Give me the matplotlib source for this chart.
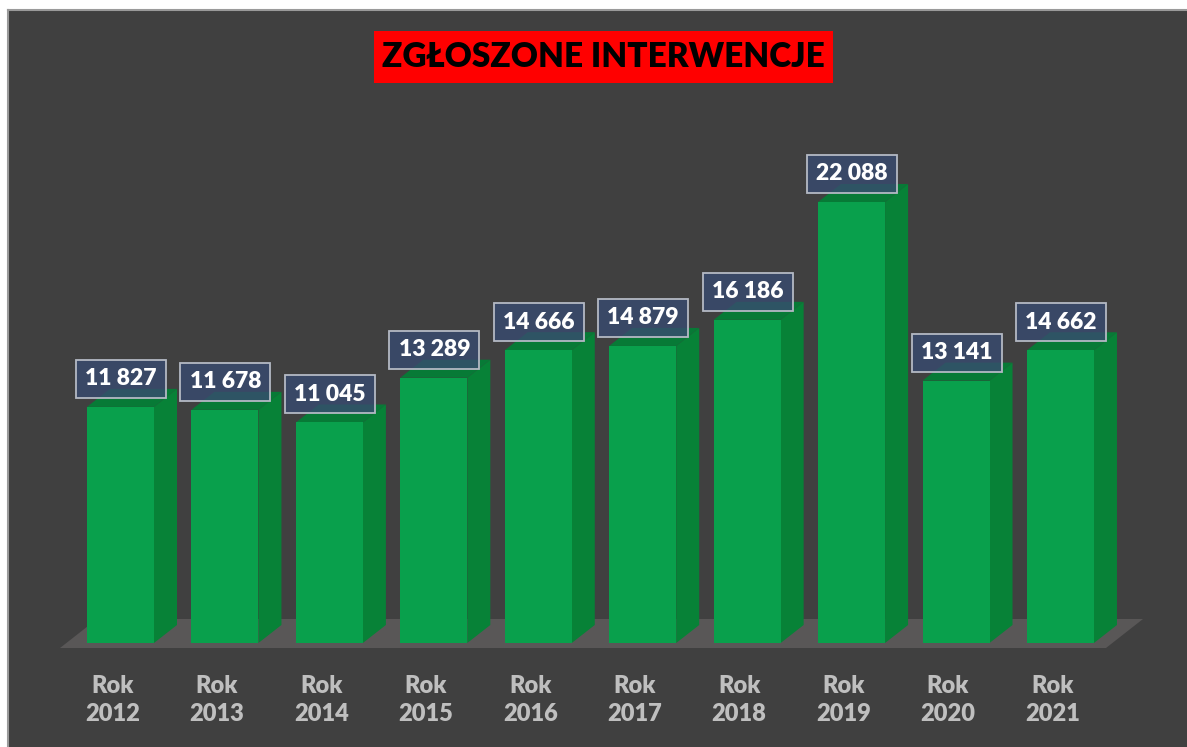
import matplotlib
matplotlib.use("Agg")
import matplotlib.pyplot as plt
from matplotlib.patches import Polygon, Rectangle
import numpy as np

# ---- data ----
years = ['2012', '2013', '2014', '2015', '2016', '2017', '2018', '2019', '2020', '2021']
values = [11827, 11678, 11045, 13289, 14666, 14879, 16186, 22088, 13141, 14662]
title = 'ZGŁOSZONE INTERWENCJE'
prefix = 'Rok'

# ---- style ----
BG = '#404040'
FLOOR = '#595757'
FRONT = '#09a04c'
SIDE = '#078237'
TOP = '#077a36'
LABEL_FC = '#384b70'
LABEL_EC = '#b4b9c4'
TICK_C = '#bfbfbf'
FONT = 'Lato'
WEIGHT = 'heavy'

W, H = 1187, 747
fig = plt.figure(figsize=(W / 100, H / 100), dpi=100, facecolor='white')
ax = fig.add_axes([8 / W, 0, (W - 8) / W, (H - 10) / H])
ax.set_facecolor(BG)

# scales (category units and value units)
px_per_cat = 104.44
px_per_val = 441 / 22088.0
x0_px, y0_px = 120.5, 643
ax.set_xlim((8 - x0_px) / px_per_cat, (W - x0_px) / px_per_cat)
ax.set_ylim(-(H - y0_px) / px_per_val, (y0_px - 10) / px_per_val)
ax.set_xticks([])
ax.set_yticks([])
for s in ['bottom', 'right']:
    ax.spines[s].set_visible(False)
for s in ['top', 'left']:
    ax.spines[s].set_color('#9a9a9a')
    ax.spines[s].set_linewidth(1.5)

def cx(px):
    return (px - x0_px) / px_per_cat

def cy(py):
    return (y0_px - py) / px_per_val

# floor
floor = Polygon([(cx(60), cy(648)), (cx(1106), cy(648)), (cx(1143), cy(619)), (cx(97), cy(619))],
                closed=True, facecolor=FLOOR, edgecolor='none', zorder=1)
ax.add_patch(floor)

x = np.arange(len(years))
w = 67 / px_per_cat
dx = 23 / px_per_cat
dy = 18 / px_per_val

ax.bar(x, values, width=w, color=FRONT, edgecolor='none', zorder=3)
for xi, v in zip(x, values):
    side = Polygon([(xi + w / 2, 0), (xi + w / 2 + dx, dy), (xi + w / 2 + dx, v + dy), (xi + w / 2, v)],
                   closed=True, facecolor=SIDE, edgecolor='none', zorder=2)
    top = Polygon([(xi - w / 2, v), (xi - w / 2 + dx, v + dy), (xi + w / 2 + dx, v + dy), (xi + w / 2, v)],
                  closed=True, facecolor=TOP, edgecolor='none', zorder=2)
    ax.add_patch(side)
    ax.add_patch(top)

# value labels
off = 28 / px_per_val
bw = 90 / px_per_cat
bh = 38 / px_per_val
for xi, v in zip(x, values):
    bx = xi + 0.005
    by = v + off
    ax.add_patch(Rectangle((bx - bw / 2, by - bh / 2), bw, bh, facecolor=LABEL_FC, edgecolor='none',
                           alpha=0.8, zorder=9))
    ax.add_patch(Rectangle((bx - bw / 2, by - bh / 2), bw, bh, facecolor='none', edgecolor=LABEL_EC,
                           linewidth=1.3, zorder=9))
    ax.text(bx, by, f"{v:,}".replace(',', ' '), ha='center', va='center',
            fontsize=16.5, fontweight=WEIGHT, color='white', family=FONT, zorder=10)

# category labels
for xi, yr in zip(x, years):
    ax.text(xi - 0.077, cy(700), f"{prefix}\n{yr}", ha='center', va='center',
            fontsize=17, fontweight=WEIGHT, color=TICK_C, family=FONT, linespacing=1.3, zorder=5)

# title
fig.patches.append(Rectangle((374 / W, 1 - 83 / H), (833 - 374) / W, 52 / H,
                             transform=fig.transFigure, facecolor='#ff0000', edgecolor='none', zorder=5))
fig.text(603.5 / W, 1 - 57 / H, title, ha='center', va='center', fontsize=24, fontweight=WEIGHT,
         color='black', family=FONT, zorder=6)

fig.savefig('out.png', dpi=100, facecolor=fig.get_facecolor())
